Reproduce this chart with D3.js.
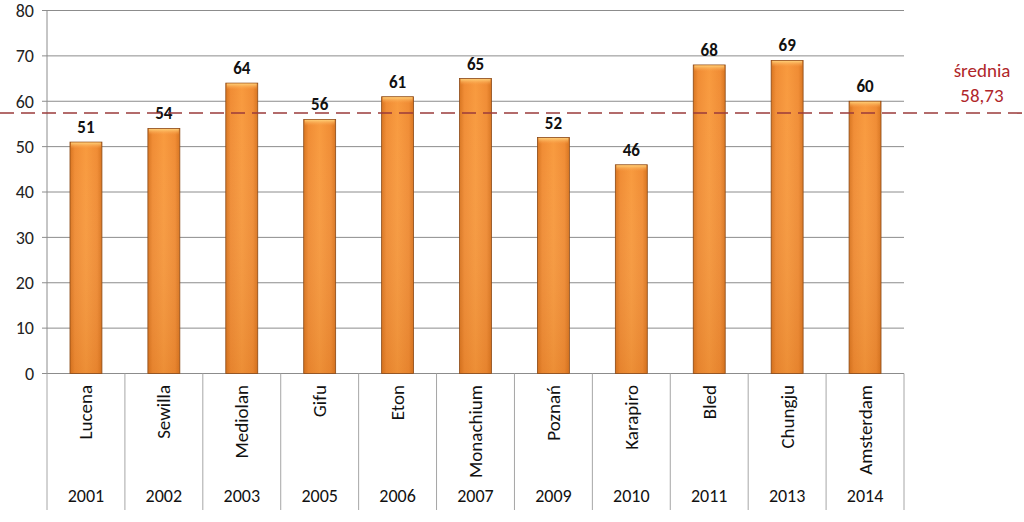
<!DOCTYPE html>
<html><head><meta charset="utf-8">
<script src="https://cdn.jsdelivr.net/npm/d3@7"></script>
<style>body{margin:0;background:#fff}svg{display:block}</style>
</head><body>
<svg id="c" width="1024" height="522"></svg>
<script>
const cities = ["Lucena","Sewilla","Mediolan","Gifu","Eton","Monachium","Poznań","Karapiro","Bled","Chungju","Amsterdam"];
const years = ["2001","2002","2003","2005","2006","2007","2009","2010","2011","2013","2014"];
const values = [51,54,64,56,61,65,52,46,68,69,60];
const yTicks = [0,10,20,30,40,50,60,70,80];
const meanLabel = ["średnia","58,73"];
const meanLinePos = 57.4; // as drawn in the reference

const svg = d3.select("#c");
const L=47, R=904, T=10.5, B=373.5, catBottom=510;
const x = d3.scaleBand().domain(years).range([L,R]).paddingInner(0).paddingOuter(0);
const y = d3.scaleLinear().domain([0,80]).range([B,T]);
const font = "Carlito,'Open Sans','Liberation Sans',sans-serif";

const defs = svg.append("defs");
const g1 = defs.append("linearGradient").attr("id","bg").attr("x1",0).attr("x2",1).attr("y1",0).attr("y2",0);
[[0,"#d8741f"],[0.15,"#f08c34"],[0.5,"#f89a3e"],[0.85,"#f08c34"],[1,"#d8741f"]].forEach(s=>g1.append("stop").attr("offset",s[0]).attr("stop-color",s[1]));
const g3 = defs.append("linearGradient").attr("id","vg").attr("x1",0).attr("x2",0).attr("y1",0).attr("y2",1);
[[0,"#ffffff",0.0],[1,"#b85a10",0.18]].forEach(s=>g3.append("stop").attr("offset",s[0]).attr("stop-color",s[1]).attr("stop-opacity",s[2]));
const g2 = defs.append("linearGradient").attr("id","tg").attr("x1",0).attr("x2",0).attr("y1",0).attr("y2",1);
[[0,"#ffd27a",0.95],[1,"#f9a04b",0]].forEach(s=>g2.append("stop").attr("offset",s[0]).attr("stop-color",s[1]).attr("stop-opacity",s[2]));

// gridlines
svg.append("g").selectAll("line").data(yTicks).join("line")
  .attr("x1",L-5).attr("x2",R).attr("y1",d=>y(d)).attr("y2",d=>y(d))
  .attr("stroke","#8c8c8c").attr("stroke-width",1);
// y axis line
svg.append("line").attr("x1",L).attr("x2",L).attr("y1",T).attr("y2",B).attr("stroke","#8c8c8c");
// y tick labels
svg.append("g").selectAll("text").data(yTicks).join("text")
  .attr("x",L-13).attr("y",d=>y(d)).attr("dy","0.35em").attr("text-anchor","end")
  .attr("font-family",font).attr("font-size",18).attr("fill","#222").text(d=>d);
// category separators
const seps = years.map(d=>x(d)).concat([R]);
svg.append("g").selectAll("line").data(seps).join("line")
  .attr("x1",d=>d).attr("x2",d=>d).attr("y1",B).attr("y2",catBottom)
  .attr("stroke","#a6a6a6");

// bars
const bw = x.bandwidth()*0.41;
const bars = svg.append("g").selectAll("g").data(values).join("g")
  .attr("transform",(d,i)=>`translate(${x(years[i])+x.bandwidth()/2-bw/2},0)`);
bars.append("rect").attr("x",0).attr("width",bw).attr("y",d=>y(d)).attr("height",d=>B-y(d))
  .attr("fill","url(#bg)");
bars.append("rect").attr("x",0).attr("width",bw).attr("y",d=>y(d)).attr("height",d=>B-y(d))
  .attr("fill","url(#vg)").attr("stroke","#8a4a18").attr("stroke-width",0.8);
bars.append("rect").attr("x",1).attr("width",bw-2).attr("y",d=>y(d)+0.5).attr("height",6)
  .attr("fill","url(#tg)");
// value labels
svg.append("g").selectAll("text").data(values).join("text")
  .attr("x",(d,i)=>x(years[i])+x.bandwidth()/2).attr("y",d=>y(d)-9)
  .attr("text-anchor","middle").attr("font-family",font).attr("font-weight","bold")
  .attr("font-size",17).attr("fill","#111").text(d=>d);

// category labels
svg.append("g").selectAll("text").data(cities).join("text")
  .attr("transform",(d,i)=>`translate(${x(years[i])+x.bandwidth()/2+6.5},385) rotate(-90)`)
  .attr("text-anchor","end").attr("font-family",font).attr("font-size",19).attr("fill","#111").text(d=>d);
svg.append("g").selectAll("text").data(years).join("text")
  .attr("x",d=>x(d)+x.bandwidth()/2).attr("y",502)
  .attr("text-anchor","middle").attr("font-family",font).attr("font-size",18).attr("fill","#111").text(d=>d);

// mean line
svg.append("line").attr("x1",0).attr("x2",1024).attr("y1",y(meanLinePos)).attr("y2",y(meanLinePos))
  .attr("stroke","#9b3b3b").attr("stroke-width",1.6).attr("stroke-dasharray","14,7");
svg.append("g").selectAll("text").data(meanLabel).join("text")
  .attr("x",982).attr("y",(d,i)=>77+i*25).attr("text-anchor","middle")
  .attr("font-family",font).attr("font-size",19).attr("fill","#b0262a").text(d=>d);
</script>
</body></html>
